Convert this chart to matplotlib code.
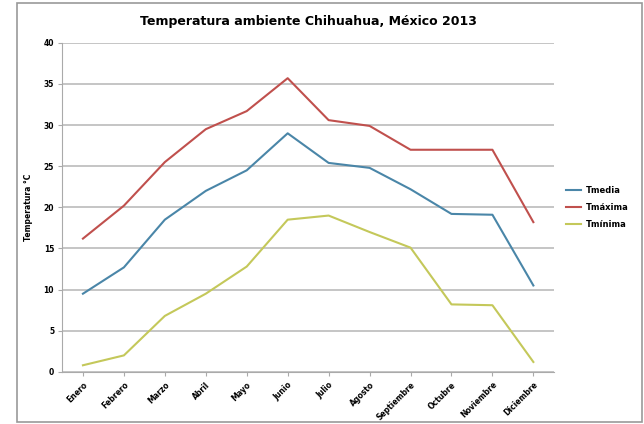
import matplotlib
matplotlib.use("Agg")
import matplotlib.pyplot as plt
from matplotlib.patches import Rectangle

meses = ["Enero", "Febrero", "Marzo", "Abril", "Mayo", "Junio", "Julio",
         "Agosto", "Septiembre", "Octubre", "Noviembre", "Diciembre"]
t_media = [9.5, 12.7, 18.5, 22.0, 24.5, 29.0, 25.4, 24.8, 22.2, 19.2, 19.1, 10.5]
t_maxima = [16.2, 20.2, 25.5, 29.5, 31.7, 35.7, 30.6, 29.9, 27.0, 27.0, 27.0, 18.2]
t_minima = [0.8, 2.0, 6.8, 9.5, 12.8, 18.5, 19.0, 17.0, 15.1, 8.2, 8.1, 1.2]
y_ticks = [0, 5, 10, 15, 20, 25, 30, 35, 40]

fig = plt.figure(figsize=(6.44, 4.24), dpi=100)
ax = fig.add_axes([0.097, 0.123, 0.763, 0.776])

x = range(len(meses))
ax.plot(x, t_media, color="#4A86A8", lw=1.5, label="Tmedia")
ax.plot(x, t_maxima, color="#C0504D", lw=1.5, label="Tmáxima")
ax.plot(x, t_minima, color="#C4C85A", lw=1.5, label="Tmínima")

ax.set_xlim(-0.5, len(meses) - 0.5)
ax.set_ylim(0, 40)
ax.set_yticks(y_ticks)
ax.set_xticks(list(x))
ax.set_xticklabels(meses, rotation=45, ha="right", rotation_mode="anchor",
                   fontsize=5.5, fontweight="bold")
ax.set_yticklabels([str(v) for v in y_ticks], fontsize=5.5, fontweight="bold")
ax.yaxis.grid(True, color="#BBBBBB", lw=1.2)
ax.set_axisbelow(True)
for s in ["top", "right"]:
    ax.spines[s].set_visible(False)
for s in ["left", "bottom"]:
    ax.spines[s].set_color("#AAAAAA")
ax.tick_params(axis="both", length=3, color="#AAAAAA", pad=3)
ax.set_ylabel("Temperatura °C", fontsize=5.5, fontweight="bold", labelpad=8)

ax.set_title("Temperatura ambiente Chihuahua, México 2013", fontsize=9,
             fontweight="bold", pad=13)

ax.legend(loc="center left", bbox_to_anchor=(1.01, 0.5), frameon=False,
          prop={"weight": "bold", "size": 6},
          handlelength=1.8, handletextpad=0.5, labelspacing=1.0)

fig.patches.append(Rectangle((0.027, 0.004), 0.97, 0.99, transform=fig.transFigure,
                             fill=False, edgecolor="#999999", lw=1.2))

fig.savefig("out.png", dpi=100)
